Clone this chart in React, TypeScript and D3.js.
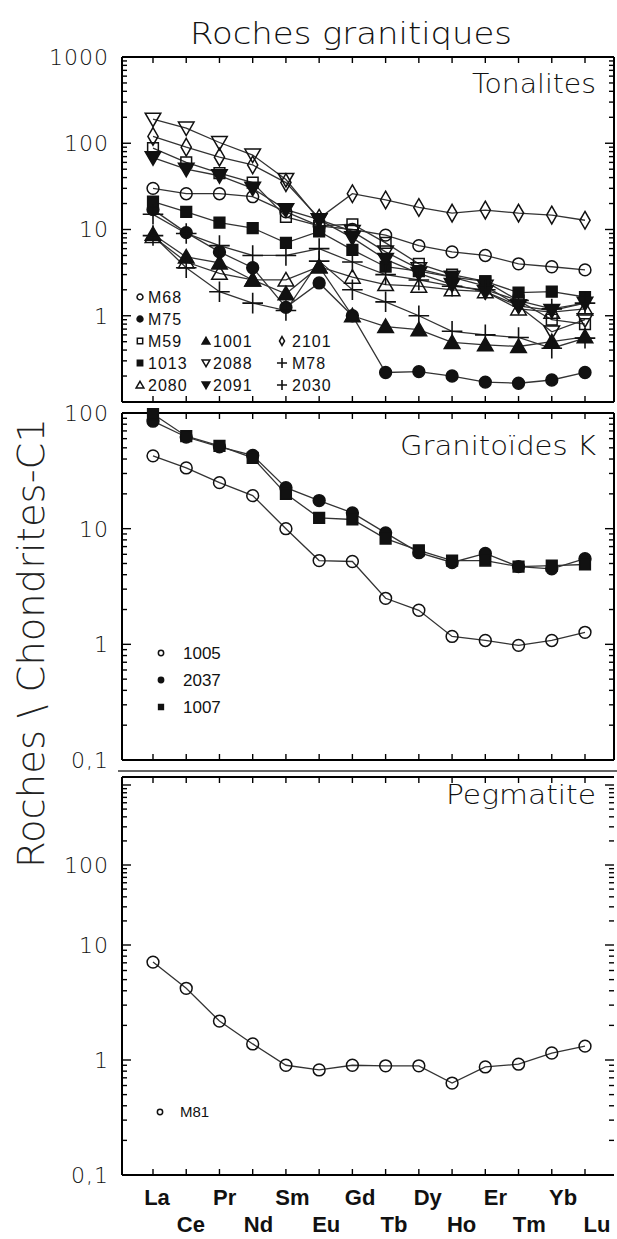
import React from 'react';
import * as d3 from 'd3';

// ---------- DATA ----------
const elements = ['La', 'Ce', 'Pr', 'Nd', 'Sm', 'Eu', 'Gd', 'Tb', 'Dy', 'Ho', 'Er', 'Tm', 'Yb', 'Lu'];

// Tonalites
const t2088 = [190, 150, 102, 73, 38, 13, 9.5, 5.5, 3.5, 2.8, 2.2, 1.3, 0.65, 0.9];
const t2101 = [120, 90, 69, 56, 35, 13.5, 26, 22, 18, 15.5, 16.8, 15.5, 14.7, 12.8];
const tM59 = [88, 60, 45, 35, 14, 11, 11.5, 7, 4, 3, 2.5, 1.5, 0.9, 0.8];
const t2091 = [68, 50, 42, 30, 17, 13, 8, 4.5, 3.1, 2.3, 1.9, 1.3, 1.15, 1.4];
const tM68 = [30, 26, 26, 24, 16, 11, 10, 8.6, 6.5, 5.5, 5.0, 4.0, 3.7, 3.4];
const t1013 = [21, 16, 12, 10.4, 7, 9.5, 5.8, 3.7, 3.3, 2.8, 2.5, 1.85, 1.9, 1.65];
const tM75 = [17, 9.2, 5.5, 3.6, 1.25, 2.4, 1.0, 0.22, 0.225, 0.2, 0.17, 0.165, 0.18, 0.22];
const t1001 = [8.8, 4.8, 4.1, 2.6, 1.8, 3.7, 1.0, 0.75, 0.69, 0.49, 0.46, 0.44, 0.5, 0.57];
const t2080 = [8.3, 4.2, 3.1, 2.6, 2.6, 3.7, 2.8, 2.3, 2.2, 2.0, 1.9, 1.2, 1.1, 1.2];
const tM78 = [8.5, 3.6, 1.9, 1.4, 1.15, 4.3, 2.0, 1.45, 1.0, 0.66, 0.6, 0.56, 0.42, 0.55];
const t2030 = [15, 9, 6.5, 5, 5, 6, 4.2, 3, 2.6, 2.2, 2.0, 1.5, 1.2, 1.4];

// Granitoides K
const g1005 = [42.6, 33.5, 25, 19.3, 10, 5.3, 5.2, 2.5, 1.97, 1.17, 1.08, 0.98, 1.08, 1.27];
const g2037 = [85, 62, 51, 43, 22.6, 17.5, 13.7, 9.2, 6.2, 5.1, 6.1, 4.7, 4.5, 5.5];
const g1007 = [98, 63, 52, 41, 20, 12.4, 12, 8.2, 6.5, 5.3, 5.3, 4.7, 4.8, 4.9];

// Pegmatite
const pM81 = [7.1, 4.2, 2.18, 1.38, 0.9, 0.82, 0.9, 0.89, 0.89, 0.63, 0.87, 0.92, 1.15, 1.32];

const topTickValues = [1000, 100, 10, 1];
const topTickLabels = ['1000', '100', '10', '1'];
const midTickValues = [100, 10, 1, 0.1];
const midTickLabels = ['100', '10', '1', '0,1'];
const botTickValues = [100, 10, 1, 0.1];
const botTickLabels = ['100', '10', '1', '0,1'];

const tonaliteSeries = [
  { name: 'M68', values: tM68, marker: 'circle' },
  { name: 'M75', values: tM75, marker: 'circleF' },
  { name: 'M59', values: tM59, marker: 'square' },
  { name: '1001', values: t1001, marker: 'triangleF' },
  { name: '2101', values: t2101, marker: 'diamond' },
  { name: '1013', values: t1013, marker: 'squareF' },
  { name: '2088', values: t2088, marker: 'triDown' },
  { name: 'M78', values: tM78, marker: 'plus' },
  { name: '2080', values: t2080, marker: 'triangle' },
  { name: '2091', values: t2091, marker: 'triDownF' },
  { name: '2030', values: t2030, marker: 'plus' },
];
const graniteSeries = [
  { name: '1005', values: g1005, marker: 'circle' },
  { name: '2037', values: g2037, marker: 'circleF' },
  { name: '1007', values: g1007, marker: 'squareF' },
];
const pegSeries = [{ name: 'M81', values: pM81, marker: 'circle' }];

// legend grid (names per row / column)
const tonaliteLegendGrid = [
  ['M68', null, null],
  ['M75', null, null],
  ['M59', '1001', '2101'],
  ['1013', '2088', 'M78'],
  ['2080', '2091', '2030'],
];

// ---------- LAYOUT ----------
const W = 617;
const H = 1239;
const LEFT = 122;
const RIGHT = 614;
const xScale = d3.scaleLinear().domain([0, elements.length - 1]).range([153, 585]);
const xLabelScale = d3.scaleLinear().domain([0, elements.length - 1]).range([157, 597]);

const panels = {
  top: { y0: 57, y1: 402, scale: d3.scaleLog().domain([0.1, 1000]).range([402, 57]) },
  mid: { y0: 413, y1: 760, scale: d3.scaleLog().domain([0.1, 100]).range([760, 413]) },
  bot: {
    y0: 777,
    y1: 1175,
    scale: d3.scaleLog().domain([0.1, 1, 10, 100, 1000]).range([1175, 1060, 945, 865, 785]),
  },
};

const FONT = "'Liberation Sans', 'DejaVu Sans', sans-serif";
const THIN = "'DejaVu Sans', 'Liberation Sans', sans-serif";

function markerPath(type: string, size: number) {
  const t =
    type.startsWith('square') ? d3.symbolSquare :
    type.startsWith('tri') ? d3.symbolTriangle :
    type.startsWith('diamond') ? d3.symbolDiamond :
    type === 'plus' ? d3.symbolPlus : d3.symbolCircle;
  return d3.symbol().type(t).size(size)() as string;
}

function Marker({ type, x, y, scale = 1 }: { type: string; x: number; y: number; scale?: number }) {
  const filled = type.endsWith('F');
  const base = type.replace(/F$/, '');
  const sizes: Record<string, number> = {
    circle: 110, square: 115, triangle: 105, triDown: 105, diamond: 90, plus: 140,
  };
  const d = markerPath(base, sizes[base] * scale * scale);
  const rot = base === 'triDown' ? ' rotate(180)' : '';
  const dy = base === 'triangle' ? 1.5 * scale : base === 'triDown' ? -1.5 * scale : 0;
  return (
    <path
      d={d}
      transform={`translate(${x},${y + dy})${rot}`}
      fill={filled ? '#111' : 'none'}
      stroke="#111"
      strokeWidth={base === 'plus' ? 1.6 : 1.5}
    />
  );
}

function logTicks(scale: any, yTop: number, yBot: number) {
  const out: { v: number; major: boolean }[] = [];
  for (let e = -1; e <= 3; e++) {
    for (let k = 1; k <= 9; k++) {
      const v = k * Math.pow(10, e);
      const y = scale(v);
      if (y >= yTop - 0.5 && y <= yBot + 0.5) out.push({ v, major: k === 1 });
    }
  }
  return out;
}

function Panel({
  p, series, tickValues, tickLabels, rightLine = true, title, titleY, titleLen,
}: any) {
  const line = d3
    .line<number>()
    .x((_, i) => xScale(i))
    .y((d) => p.scale(d));
  const ticks = logTicks(p.scale, p.y0, p.y1);
  return (
    <g>
      {/* frame */}
      <line x1={LEFT} x2={LEFT} y1={p.y0} y2={p.y1} stroke="#000" strokeWidth={2} />
      <line x1={LEFT} x2={RIGHT} y1={p.y1} y2={p.y1} stroke="#000" strokeWidth={2} />
      <line x1={LEFT} x2={RIGHT} y1={p.y0} y2={p.y0} stroke="#000" strokeWidth={2} />
      {rightLine && <line x1={RIGHT} x2={RIGHT} y1={p.y0} y2={p.y1} stroke="#000" strokeWidth={2} />}
      {/* y ticks */}
      {ticks.map((t, i) => {
        const y = p.scale(t.v);
        const len = t.major ? 9 : 5;
        return (
          <g key={i}>
            <line x1={LEFT} x2={LEFT + len} y1={y} y2={y} stroke="#000" strokeWidth={1.4} />
            <line x1={RIGHT} x2={RIGHT - len} y1={y} y2={y} stroke="#000" strokeWidth={1.4} />
          </g>
        );
      })}
      {/* x ticks */}
      {elements.map((el, i) => (
        <g key={el}>
          <line x1={xScale(i)} x2={xScale(i)} y1={p.y1} y2={p.y1 - 6} stroke="#000" strokeWidth={1.4} />
          <line x1={xScale(i)} x2={xScale(i)} y1={p.y0} y2={p.y0 + 6} stroke="#000" strokeWidth={1.4} />
        </g>
      ))}
      {/* y tick labels */}
      {tickValues.map((v: number, i: number) => (
        <text
          key={i}
          x={109}
          y={p.scale(v)}
          dy="0.36em"
          textAnchor="end"
          fontFamily={THIN}
          fontWeight={200}
          fontSize={22}
          letterSpacing={1}
          fill="#111"
        >
          {tickLabels[i]}
        </text>
      ))}
      {/* title */}
      <text
        x={titleLen ? 596 - titleLen : 596}
        y={titleY}
        textAnchor="start"
        fontFamily={THIN}
        fontWeight={200}
        fontSize={27}
        textLength={titleLen}
        lengthAdjust="spacingAndGlyphs"
        fill="#111"
      >
        {title}
      </text>
      {/* series */}
      {series.map((s: any) => (
        <path key={'l' + s.name} d={line(s.values) as string} fill="none" stroke="#333" strokeWidth={1.3} />
      ))}
      {series.map((s: any) =>
        s.values.map((v: number, i: number) => (
          <Marker key={s.name + i} type={s.marker} x={xScale(i)} y={p.scale(v)} />
        ))
      )}
    </g>
  );
}

export default function App() {
  const markerOf = (name: string) => tonaliteSeries.find((s) => s.name === name)!.marker;
  const colSym = [140, 206, 282];
  const colTxt = [148, 213, 292];
  return (
    <svg
      width={W}
      height={H}
      viewBox={`0 0 ${W} ${H}`}
      style={{ position: 'absolute', left: 0, top: 0, background: '#fff' }}
    >
      <rect width={W} height={H} fill="#fff" />
      <text
        x={190}
        y={44}
        fontFamily={THIN}
        fontWeight={200}
        fontSize={30}
        textLength={322}
        lengthAdjust="spacingAndGlyphs"
        fill="#111"
      >
        Roches granitiques
      </text>
      <text
        transform="translate(44,643) rotate(-90)"
        x={-225}
        y={0}
        fontFamily={THIN}
        fontWeight={200}
        fontSize={38}
        textLength={450}
        lengthAdjust="spacingAndGlyphs"
        fill="#222"
      >
        Roches \ Chondrites-C1
      </text>

      <Panel
        p={panels.top}
        series={tonaliteSeries}
        tickValues={topTickValues}
        tickLabels={topTickLabels}
        title="Tonalites"
        titleY={93}
        titleLen={124}
      />
      <Panel
        p={panels.mid}
        series={graniteSeries}
        tickValues={midTickValues}
        tickLabels={midTickLabels}
        title="Granitoïdes K"
        titleY={455}
        titleLen={196}
      />
      <line x1={118} x2={617} y1={771} y2={771} stroke="#666" strokeWidth={2} />
      <Panel
        p={panels.bot}
        series={pegSeries}
        tickValues={botTickValues}
        tickLabels={botTickLabels}
        rightLine={false}
        title="Pegmatite"
        titleY={804}
        titleLen={150}
      />

      {/* tonalite legend */}
      {tonaliteLegendGrid.map((row, r) =>
        row.map((name, c) =>
          name ? (
            <g key={name}>
              <Marker type={markerOf(name)} x={colSym[c]} y={297 + r * 22} scale={0.5} />
              <text
                x={colTxt[c]}
                y={297 + r * 22}
                dy="0.36em"
                fontFamily={FONT}
                fontSize={16}
                letterSpacing={1}
                fill="#111"
              >
                {name}
              </text>
            </g>
          ) : null
        )
      )}

      {/* granitoides legend */}
      {graniteSeries.map((s, i) => (
        <g key={'gl' + s.name}>
          <Marker type={s.marker} x={161} y={653 + i * 27} scale={0.45} />
          <text x={183} y={653 + i * 27} dy="0.36em" fontFamily={FONT} fontSize={17} fill="#111">
            {s.name}
          </text>
        </g>
      ))}

      {/* pegmatite legend */}
      {pegSeries.map((s) => (
        <g key={'pl' + s.name}>
          <Marker type={s.marker} x={160} y={1112} scale={0.45} />
          <text x={180} y={1112} dy="0.36em" fontFamily={FONT} fontSize={15} fill="#111">
            {s.name}
          </text>
        </g>
      ))}

      {/* x axis labels, staggered */}
      {elements.map((el, i) => (
        <text
          key={'xl' + el}
          x={xLabelScale(i)}
          y={i % 2 === 0 ? 1205 : 1232}
          textAnchor="middle"
          fontFamily={FONT}
          fontWeight="bold"
          fontSize={22}
          fill="#111"
        >
          {el}
        </text>
      ))}
    </svg>
  );
}
